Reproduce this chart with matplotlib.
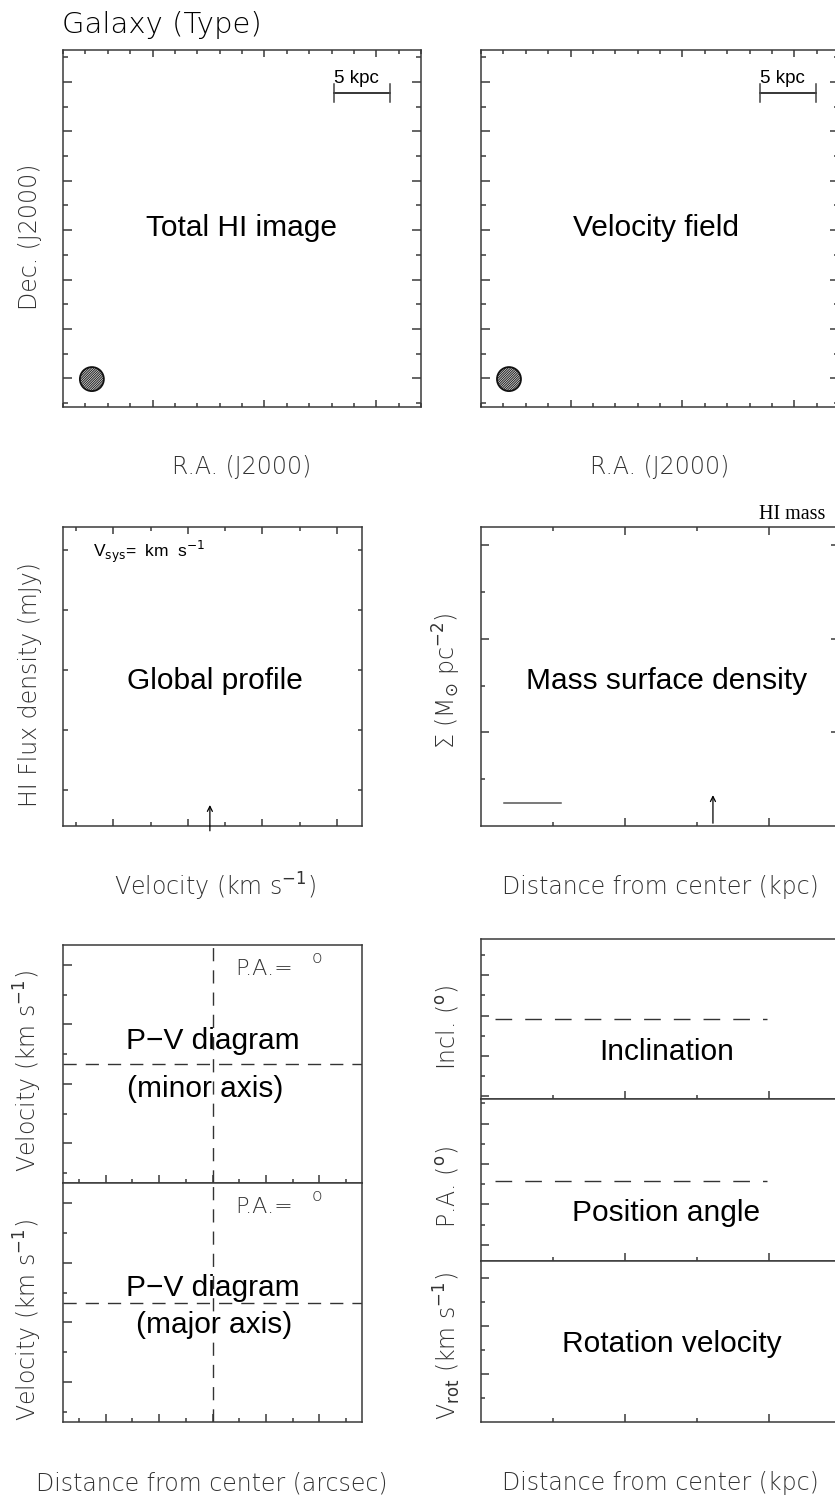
import matplotlib
matplotlib.use("Agg")
import matplotlib.pyplot as plt
from matplotlib.patches import Ellipse
from matplotlib.ticker import FixedLocator

W, H, DPI = 835, 1499, 100

# ---- content -------------------------------------------------------------
TITLE = "Galaxy (Type)"
MAP_PANELS = ["Total HI image", "Velocity field"]
MAP_XLABEL = "R.A. (J2000)"
MAP_YLABEL = "Dec. (J2000)"
SCALE_BAR_TEXT = "5 kpc"
SCALE_BAR_LEN = 2.5            # map units spanned by the 5 kpc bar
SCALE_BAR_START = [12.1, 12.45]
BEAM_X = [1.29, 1.25]

PROFILE_PANEL = "Global profile"
PROFILE_XLABEL = "Velocity (km s$^{-1}$)"
PROFILE_YLABEL = "HI Flux density (mJy)"
VSYS_TEXT = r"V$_{\rm sys}$=  km  s$^{-1}$"
VSYS_ARROW_X = 3.94

DENSITY_PANEL = "Mass surface density"
DENSITY_XLABEL = "Distance from center (kpc)"
DENSITY_YLABEL = "\u03a3 (M$_{\\odot}$ pc$^{-2}$)"
HI_MASS_TEXT = "HI mass"
BEAM_SEGMENT = [0.32, 1.11]
BEAM_SEGMENT_Y = 0.49
DENSITY_ARROW_X = 3.22

PV_TITLES = [("P\u2212V diagram", "(minor axis)"), ("P\u2212V diagram", "(major axis)")]
PV_YLABEL = "Velocity (km s$^{-1}$)"
PV_XLABEL = "Distance from center (arcsec)"
PV_CENTER = 0.0
PV_VSYS = 0.0

RING_PANELS = ["Inclination", "Position angle", "Rotation velocity"]
RING_YLABELS = ["Incl. ($^{\\rm o}$)", "P.A. ($^{\\rm o}$)", r"V$_{\rm rot}$ (km s$^{-1}$)"]
RING_XLABEL = "Distance from center (kpc)"
INCL_GUIDE = 3.98
PA_GUIDE = 3.96
GUIDE_RANGE = [0.19, 3.97]

# ---- style ---------------------------------------------------------------
PX = 0.72  # points per pixel at 100 dpi
FRAME = "#3a3a3a"
LABEL_KW = dict(family="DejaVu Sans", fontweight="light", color="#333333", fontsize=17)
PANEL_KW = dict(family="Liberation Sans", color="black", fontsize=21.5)

plt.rcParams["hatch.linewidth"] = 0.8
plt.rcParams["mathtext.fontset"] = "dejavusans"

fig = plt.figure(figsize=(W / DPI, H / DPI), dpi=DPI)


def fx(x):
    return x / W


def fy(y):
    return 1 - y / H


def add_box(left, top, width, height):
    ax = fig.add_axes([left / W, 1 - (top + height) / H, width / W, height / H])
    for s in ax.spines.values():
        s.set_color(FRAME)
        s.set_linewidth(1.1)
    return ax


def ticks(ax, xmaj, xmin, ymaj, ymin, xlen=(7, 4), ylen=(8, 4), top=True, right=True):
    ax.xaxis.set_major_locator(FixedLocator(xmaj))
    ax.xaxis.set_minor_locator(FixedLocator(xmin))
    ax.yaxis.set_major_locator(FixedLocator(ymaj))
    ax.yaxis.set_minor_locator(FixedLocator(ymin))
    ax.tick_params(axis="both", which="both", direction="in", top=top, right=right,
                   labelbottom=False, labelleft=False, color=FRAME, width=1.1)
    ax.tick_params(axis="x", which="major", length=xlen[0] * PX)
    ax.tick_params(axis="x", which="minor", length=xlen[1] * PX)
    ax.tick_params(axis="y", which="major", length=ylen[0] * PX)
    ax.tick_params(axis="y", which="minor", length=ylen[1] * PX)


def panel_text(ax, x, y, s, **kw):
    ax.text(x, y, s, transform=ax.transAxes, ha="center", va="baseline", **{**PANEL_KW, **kw})


# ---- title ---------------------------------------------------------------
fig.text(fx(62), fy(33), TITLE, ha="left", va="baseline", family="DejaVu Sans",
         fontweight="light", fontsize=21, color="black")

# ---- row 1: maps ---------------------------------------------------------
map_lefts = [63, 481]
map_text_x = [0.5, 0.489]
for i, left in enumerate(map_lefts):
    ax = add_box(left, 50, 358, 357)
    ax.set_xlim(0, 16)
    ax.set_ylim(0, 14.45)
    ticks(ax, [4, 9, 14], list(range(0, 17)),
          [0.16 + k for k in range(1, 15, 2)], [0.16 + k for k in range(0, 15, 2)],
          xlen=(7, 4), ylen=(9, 5))
    panel_text(ax, map_text_x[i], 0.479, MAP_PANELS[i])
    # scale bar
    x0 = SCALE_BAR_START[i]
    x1 = x0 + SCALE_BAR_LEN
    yb = 12.71
    ax.plot([x0, x1], [yb, yb], color="black", lw=1.1)
    ax.plot([x0, x0], [yb - 0.36, yb + 0.36], color="#444", lw=1.1)
    ax.plot([x1, x1], [yb - 0.36, yb + 0.36], color="#444", lw=1.1)
    ax.text(x0, 13.12, SCALE_BAR_TEXT, ha="left", va="baseline",
            family="Liberation Sans", fontsize=13.5, color="black")
    # beam
    bw, bh = 24 / 22.4, 24 / 24.7
    ax.add_patch(Ellipse((BEAM_X[i], 1.13), bw, bh, facecolor="white",
                         edgecolor="#2a2a2a", hatch="//////////////", lw=0))
    ax.add_patch(Ellipse((BEAM_X[i], 1.13), bw, bh, fill=False,
                         edgecolor="#111111", lw=1.3))
    fig.text(fx([242, 660][i]), fy(467), MAP_XLABEL, ha="center", va="center", **LABEL_KW)

fig.text(fx(30), fy(237), MAP_YLABEL, ha="center", va="center", rotation=90, **LABEL_KW)

# ---- row 2: global profile ----------------------------------------------
ax = add_box(63, 527, 299, 299)
ax.set_xlim(0, 8.02)
ax.set_ylim(0, 4.98)
ticks(ax, [0.35 + k for k in (1, 3, 5, 7)], [0.35 + k for k in (0, 2, 4, 6)],
      [], [0.6 + k for k in range(5)], xlen=(7, 4), ylen=(8, 4.5))
panel_text(ax, 0.508, 0.458, PROFILE_PANEL)
ax.text((93 - 63) / 299, (826 - 557) / 299, VSYS_TEXT, transform=ax.transAxes,
        ha="left", va="baseline", family="Liberation Sans", fontsize=12.5, color="black",
        math_fontfamily="custom")
ax.annotate("", xy=(VSYS_ARROW_X, 0.35), xytext=(VSYS_ARROW_X, -0.08),
            arrowprops=dict(arrowstyle="->", color="black", lw=0.9, mutation_scale=9,
                            shrinkA=0, shrinkB=0), annotation_clip=False)
fig.text(fx(215), fy(887), PROFILE_XLABEL, ha="center", va="center", **LABEL_KW)
fig.text(fx(30), fy(685), PROFILE_YLABEL, ha="center", va="center", rotation=90, **LABEL_KW)

# ---- row 2: surface density ---------------------------------------------
ax = add_box(481, 527, 358, 299)
ax.set_xlim(0, 4.97)
ax.set_ylim(0, 6.39)
ticks(ax, [2, 4], [1, 3], [2, 4, 6], [1, 3, 5], xlen=(8, 4), ylen=(8, 4))
panel_text(ax, 0.517, 0.458, DENSITY_PANEL)
ax.plot(BEAM_SEGMENT, [BEAM_SEGMENT_Y, BEAM_SEGMENT_Y], color="#555555", lw=1.1)
ax.annotate("", xy=(DENSITY_ARROW_X, 0.66), xytext=(DENSITY_ARROW_X, 0.06),
            arrowprops=dict(arrowstyle="->", color="black", lw=0.9, mutation_scale=9,
                            shrinkA=0, shrinkB=0), annotation_clip=False)
fig.text(fx(825), fy(519), HI_MASS_TEXT, ha="right", va="baseline",
         family="Liberation Serif", fontsize=14.5, color="black")
fig.text(fx(660), fy(887), DENSITY_XLABEL, ha="center", va="center", **LABEL_KW)
fig.text(fx(447), fy(681), DENSITY_YLABEL, ha="center", va="center", rotation=90, **LABEL_KW)

# ---- row 3: position-velocity diagrams ----------------------------------
pv_boxes = [(945, 238), (1183, 239)]
pv_text = [((0.5, 0.563), (0.475, 0.361)), ((0.5, 0.527), (0.505, 0.372))]
pv_label_y = [1071, 1320]
for i, (top, h) in enumerate(pv_boxes):
    ax = add_box(63, top, 299, h)
    ax.set_xlim(-5.6, 5.6)
    ax.set_ylim(-4, 4)
    ticks(ax, [-4, -2, 0, 2, 4], [-5, -3, -1, 1, 3, 5],
          [3 + 1 / 3, 1 + 1 / 3, -2 / 3, -8 / 3], [2 + 1 / 3, 1 / 3, -5 / 3, -11 / 3],
          xlen=(8, 4), ylen=(9, 4), top=False, right=False)
    (x1, y1), (x2, y2) = pv_text[i]
    panel_text(ax, x1, y1, PV_TITLES[i][0])
    panel_text(ax, x2, y2, PV_TITLES[i][1])
    ax.axhline(PV_VSYS, color="#333333", lw=1.0, dashes=(9.5, 6.5))
    ax.axvline(PV_CENTER, color="#333333", lw=1.0, dashes=(9.5, 6.5))
    ax.text(0.575, 0.874, "P.A.=", transform=ax.transAxes, ha="left", va="baseline",
            family="DejaVu Sans", fontweight="light", fontsize=16, color="#333333")
    ax.text(0.83, 0.925, "o", transform=ax.transAxes, ha="left", va="baseline",
            family="DejaVu Sans", fontweight="light", fontsize=12.5, color="#333333")
    fig.text(fx(28), fy(pv_label_y[i]), PV_YLABEL, ha="center", va="center",
             rotation=90, **LABEL_KW)
fig.text(fx(212), fy(1483), PV_XLABEL, ha="center", va="center", **LABEL_KW)

# ---- row 3: tilted-ring parameters --------------------------------------
ring_boxes = [(939, 160, 7.96), (1099, 162, 8.02), (1261, 161, 6.7)]
ring_yticks = [
    ([0.15 + k for k in (0, 2, 4, 6)], [0.15 + k for k in (1, 3, 5, 7)]),
    ([0.8 + k for k in (0, 2, 4, 6)], [0.8 + k for k in (1, 3, 5, 7)]),
    ([2, 4, 6], [1, 3, 5]),
]
ring_text = [(0.52, 0.244), (0.517, 0.247), (0.534, 0.435)]
ring_label_y = [1027, 1187, 1346]
guides = [INCL_GUIDE, PA_GUIDE, None]
for i, (top, h, ymax) in enumerate(ring_boxes):
    ax = add_box(481, top, 358, h)
    ax.set_xlim(0, 4.97)
    ax.set_ylim(0, ymax)
    ticks(ax, [2, 4], [1, 3], ring_yticks[i][0], ring_yticks[i][1],
          xlen=(8, 4), ylen=(8, 4), top=False, right=False)
    panel_text(ax, ring_text[i][0], ring_text[i][1], RING_PANELS[i])
    if guides[i] is not None:
        ax.plot(GUIDE_RANGE, [guides[i], guides[i]], color="#333333", lw=1.0,
                dashes=(12, 9.4))
    fig.text(fx(447), fy(ring_label_y[i]), RING_YLABELS[i], ha="center", va="center",
             rotation=90, **LABEL_KW)
fig.text(fx(660), fy(1483), RING_XLABEL, ha="center", va="center", **LABEL_KW)

fig.savefig("out.png", dpi=DPI)
